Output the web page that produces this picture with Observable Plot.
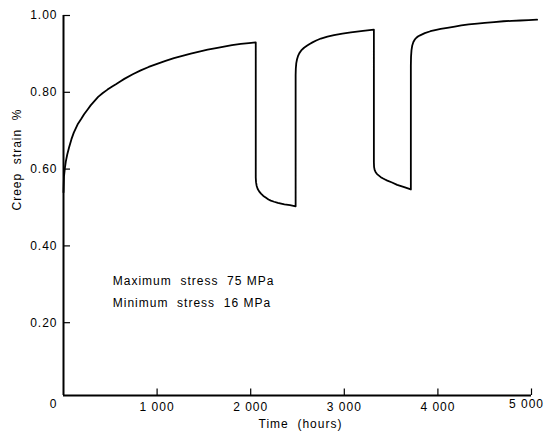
<!DOCTYPE html>
<html>
<head>
<meta charset="utf-8">
<script src="https://cdn.jsdelivr.net/npm/d3@7"></script>
<script src="https://cdn.jsdelivr.net/npm/@observablehq/plot@0.6"></script>
<style>
  html, body { margin: 0; padding: 0; background: #fff; }
</style>
</head>
<body>
<div id="chart"></div>
<script>
// Data
const timeHours = [
  0, 5, 15, 25, 40, 60, 85, 110, 150, 190, 220, 260, 290, 330, 370, 420, 470, 520, 560, 610, 650, 740, 825, 910, 1000, 1090, 1180, 1270, 1360, 1450, 1540, 1630, 1715, 1800, 1895, 1980, 2054,
  2054, 2057, 2064, 2075, 2090, 2110, 2135, 2160, 2190, 2215, 2250, 2290, 2325, 2360, 2420, 2480,
  2480, 2482, 2487, 2495, 2505, 2520, 2540, 2570, 2600, 2630, 2660, 2700, 2750, 2820, 2890, 2980, 3070, 3200, 3316,
  3316, 3318, 3324, 3335, 3350, 3370, 3390, 3410, 3435, 3460, 3510, 3565, 3640, 3711,
  3711, 3713, 3718, 3726, 3738, 3752, 3770, 3790, 3815, 3860, 3920, 3970, 4030, 4100, 4180, 4250, 4330, 4420, 4500, 4600, 4700, 4790, 4880, 4970, 5060
];
const creepStrain = [
  0.54, 0.58, 0.603, 0.62, 0.638, 0.657, 0.678, 0.695, 0.716, 0.731, 0.743, 0.756, 0.766, 0.777, 0.788, 0.798, 0.807, 0.815, 0.821, 0.829, 0.835, 0.847, 0.857, 0.866, 0.874, 0.882, 0.889, 0.895, 0.901, 0.906, 0.911, 0.915, 0.919, 0.923, 0.926, 0.928, 0.930,
  0.578, 0.566, 0.556, 0.548, 0.542, 0.536, 0.530, 0.526, 0.521, 0.518, 0.515, 0.512, 0.510, 0.508, 0.506, 0.503,
  0.845, 0.862, 0.876, 0.886, 0.894, 0.902, 0.909, 0.916, 0.921, 0.926, 0.930, 0.935, 0.940, 0.945, 0.949, 0.953, 0.956, 0.960, 0.963,
  0.618, 0.606, 0.598, 0.592, 0.587, 0.583, 0.579, 0.576, 0.573, 0.570, 0.565, 0.559, 0.553, 0.547,
  0.870, 0.893, 0.910, 0.922, 0.931, 0.937, 0.942, 0.946, 0.949, 0.954, 0.959, 0.962, 0.965, 0.968, 0.971, 0.974, 0.977, 0.979, 0.981, 0.983, 0.985, 0.986, 0.987, 0.988, 0.989
];
const xTicks = [1000, 2000, 3000, 4000, 5000];
const yTicks = [0.2, 0.4, 0.6, 0.8, 1.0];
const xLabel = "Time  (hours)";
const yLabel = "Creep  strain  %";
const notes = ["Maximum  stress  75 MPa", "Minimum  stress  16 MPa"];
const noteStrain = [0.307, 0.25];

const curve = timeHours.map((t, i) => ({t, s: creepStrain[i]}));
const yMin = 0.0104;
const fmtX = d => d3.format(",")(d).replace(",", " ");

const chart = Plot.plot({
  width: 545,
  height: 434,
  marginLeft: 63,
  marginRight: 14,
  marginTop: 15,
  marginBottom: 39,
  style: {
    fontFamily: "'Liberation Sans', Arial, sans-serif",
    fontSize: "12px",
    letterSpacing: "1px",
    whiteSpace: "pre",
    color: "#000",
    background: "#fff"
  },
  x: {domain: [0, 5000]},
  y: {domain: [yMin, 1.0]},
  marks: [
    // axis lines
    Plot.ruleX([0], {y1: yMin, y2: 1.0, strokeWidth: 2, stroke: "#000"}),
    Plot.ruleY([yMin], {x1: 0, x2: 5000, strokeWidth: 2, stroke: "#000"}),
    // inward ticks
    Plot.ruleY(yTicks, {y: d => d, x1: 0, x2: 75, strokeWidth: 1.2, stroke: "#000"}),
    Plot.ruleX(xTicks, {x: d => d, y1: yMin, y2: yMin + 0.017, strokeWidth: 1.2, stroke: "#000"}),
    // tick labels
    Plot.axisY({ticks: yTicks, tickSize: 0, tickPadding: 6, tickFormat: d3.format(".2f"), label: null}),
    Plot.axisX({ticks: xTicks.slice(0, -1), tickSize: 0, tickPadding: 7, tickFormat: fmtX, label: null, style: {letterSpacing: "0.4px"}}),
    Plot.text(xTicks.slice(-1), {x: d => d, text: fmtX, frameAnchor: "bottom", dy: 12, dx: -5, style: {letterSpacing: "0.4px"}}),
    Plot.text(["0"], {x: 0, frameAnchor: "bottom", dy: 12, dx: -10}),
    // axis titles
    Plot.text([xLabel], {frameAnchor: "bottom", dy: 32, dx: 3}),
    Plot.text([yLabel], {frameAnchor: "left", rotate: -90, dx: -46, dy: 5}),
    // annotations
    Plot.text(notes, {x: 526, y: (d, i) => noteStrain[i], textAnchor: "start"}),
    // creep curve
    Plot.line(curve, {x: "t", y: "s", stroke: "#000", strokeWidth: 1.8, curve: "linear"})
  ]
});
document.getElementById("chart").appendChild(chart);
</script>
</body>
</html>
